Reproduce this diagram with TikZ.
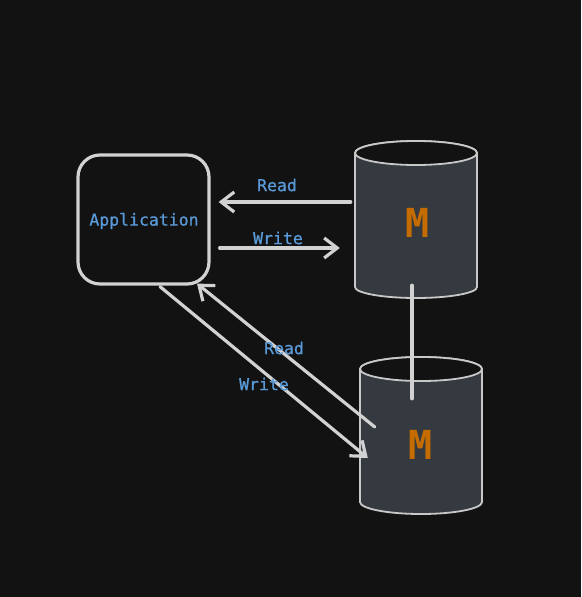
\documentclass[tikz,border=0pt]{standalone}
\usepackage{fontspec}
\setmonofont{DejaVu Sans Mono}
\newfontfamily\lblfont[FakeBold=0.8]{DejaVu Sans Mono}
\usetikzlibrary{arrows.meta,calc}
\definecolor{bgc}{HTML}{121212}
\definecolor{strokec}{HTML}{D2D2D2}
\definecolor{cylc}{HTML}{343A40}
\definecolor{cyledge}{HTML}{C8C8C8}
\definecolor{bluec}{HTML}{5A9AD8}
\definecolor{orangec}{HTML}{C46C00}
\tikzset{
  lbl/.style={text=bluec,font=\lblfont\fontsize{16.5}{19}\selectfont,inner sep=0pt},
  mlbl/.style={text=orangec,font=\ttfamily\bfseries\fontsize{40}{44}\selectfont,inner sep=0pt},
  arr/.style={draw=strokec,line width=3.2pt,line cap=round,-{Straight Barb[length=13pt,width=20pt,line width=3.2pt]}},
  plain/.style={draw=strokec,line width=3.2pt,line cap=round},
  appbox/.style={draw=strokec,line width=3.2pt,fill=bgc,rounded corners=22pt,minimum width=131pt,minimum height=129pt,inner sep=0pt},
  dbbox/.style={inner sep=0pt,minimum width=122pt,minimum height=158pt},
  cylbody/.style={fill=cylc,draw=cyledge,line width=1.8pt},
  cyltop/.style={fill=bgc,draw=cyledge,line width=1.8pt}
}
\begin{document}
\begin{tikzpicture}[x=1pt,y=-1pt]
\fill[bgc] (0,0) rectangle (581,597);
\useasboundingbox (0,0) rectangle (581,597);
% cylinder 1
\path[cylbody] (355,153) -- (355,287) arc[start angle=180,end angle=360,x radius=61,y radius=-11] -- (477,153) arc[start angle=0,end angle=180,x radius=61,y radius=-12] -- cycle;
\path[cyltop] (416,153) ellipse[x radius=61,y radius=12];
\node[dbbox] (db1) at (416,219) {};
\node[mlbl] (m1) at (418,223) {M};
% cylinder 2
\path[cylbody] (360,369) -- (360,502) arc[start angle=180,end angle=360,x radius=61,y radius=-12] -- (482,369) arc[start angle=0,end angle=180,x radius=61,y radius=-12] -- cycle;
\path[cyltop] (421,369) ellipse[x radius=61,y radius=12];
\node[dbbox] (db2) at (421,435) {};
\node[mlbl] (m2) at (421,445) {M};
% application
\node[appbox] (app) at (143.5,219.5) {};
\node[lbl] (applbl) at (144,221) {Application};
% connector points
\coordinate (r1s) at ($(db1.west)+(-4,-17)$);
\coordinate (r1e) at ($(app.east)+(8,-17.5)$);
\coordinate (w1s) at ($(app.east)+(9,28.5)$);
\coordinate (w1e) at ($(db1.west)+(-15,29)$);
\coordinate (vs) at ($(db1.south)+(-4,-13)$);
\coordinate (ve) at ($(db2.north)+(-9,43)$);
\coordinate (w2s) at ($(app.south)+(16.5,1)$);
\coordinate (w2e) at ($(db2.west)+(8,23)$);
\coordinate (r2s) at ($(db2.west)+(15,-8)$);
\coordinate (r2e) at ($(app.south)+(53.5,-2)$);
% connectors
\draw[arr] (r1s) -- (r1e);
\draw[arr] (w1s) -- (w1e);
\draw[plain] (vs) -- (ve);
\draw[arr] (w2s) -- (w2e);
\draw[arr] (r2s) -- (r2e);
% labels
\node[lbl] (lr1) at (277,185) {Read};
\node[lbl] (lw1) at (278,238) {Write};
\node[lbl] (lr2) at (284,348) {Read};
\node[lbl] (lw2) at (264,384) {Write};
\end{tikzpicture}
\end{document}
